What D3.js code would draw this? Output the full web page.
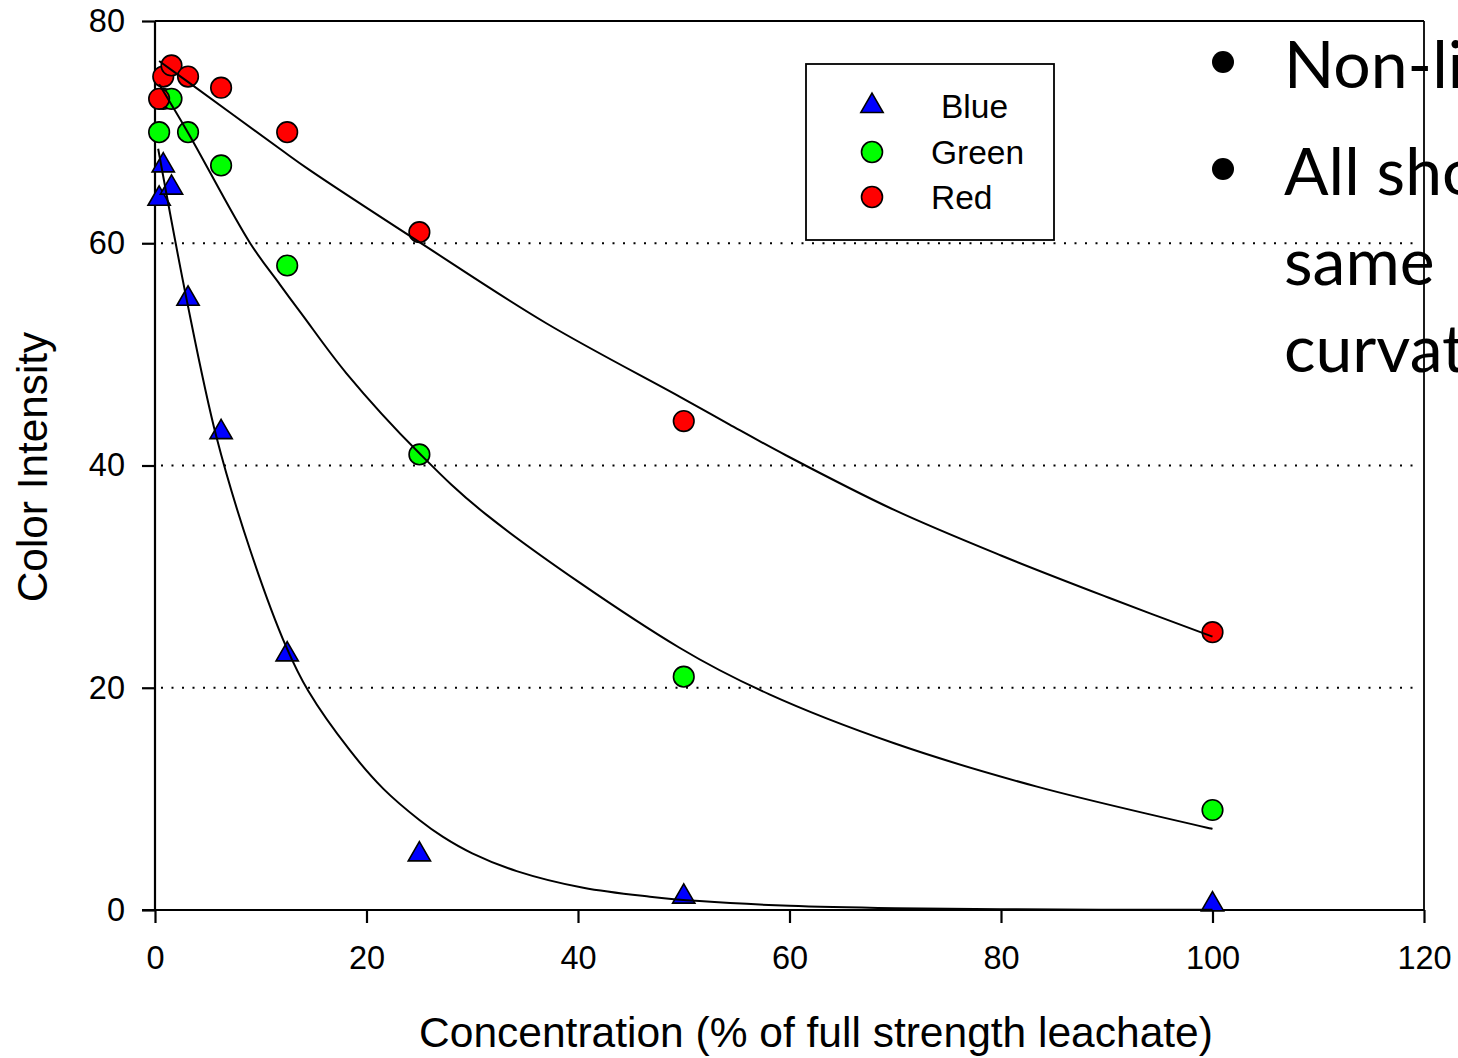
<!DOCTYPE html>
<html>
<head>
<meta charset="utf-8">
<script src="https://cdn.jsdelivr.net/npm/d3@7/dist/d3.min.js"></script>
<style>
  html, body { margin: 0; padding: 0; background: #fff; overflow: hidden; }
  svg { display: block; }
</style>
</head>
<body>
<script>
// ---- Data ----
const concentrations = [0.39, 0.78, 1.56, 3.125, 6.25, 12.5, 25, 50, 100];
const blueValues  = [64, 67, 65, 55, 43, 23, 5, 1.2, 0.5];
const greenValues = [70, 73, 73, 70, 67, 58, 41, 21, 9];
const redValues   = [73, 75, 76, 75, 74, 70, 61, 44, 25];

// fitted curves
const blueFitX  = [0.3, 3, 5.8, 9, 12.4, 14.5, 18.4, 21.6, 25, 27.2, 30, 34.2, 40.5, 46.8, 51.5, 60, 70, 80, 90, 100];
const blueFitY  = [68.5, 54.9, 42.6, 32.4, 23.7, 19.7, 14.4, 10.9, 8.1, 6.6, 5.1, 3.5, 2.0, 1.2, 0.8, 0.38, 0.16, 0.07, 0.03, 0.013];
const greenFitX = [0.39, 3.15, 9, 11.8, 13.9, 18.1, 25, 31.3, 49.6, 58.1, 69.9, 83.4, 100];
const greenFitY = [74.3, 69.9, 60, 56.3, 53.6, 48.3, 41.1, 35.6, 23.6, 19.4, 15, 11.1, 7.3];
const redFitX   = [0.39, 3.15, 11.8, 14.6, 25, 37, 49.6, 54.3, 59.7, 69.9, 80, 90.2, 100];
const redFitY   = [76.4, 74.5, 68.5, 66.6, 60.1, 52.8, 46.2, 43.7, 40.9, 36.0, 31.9, 28.1, 24.6];

const xTicks = [0, 20, 40, 60, 80, 100, 120];
const yTicks = [0, 20, 40, 60, 80];
const gridValues = [20, 40, 60];

const legendLabels = ["Blue", "Green", "Red"];
const xTitle = "Concentration (% of full strength leachate)";
const yTitle = "Color Intensity";
const slideLines = [
  {bullet: true,  text: "Non-linear"},
  {bullet: true,  text: "All show the"},
  {bullet: false, text: "same"},
  {bullet: false, text: "curvature"}
];

// ---- Layout ----
const W = 1458, H = 1058;
const pLeft = 155, pRight = 1424, pTop = 21, pBottom = 910;
const FONT = "'Liberation Sans', Arial, sans-serif";

const svg = d3.select("body").append("svg").attr("width", W).attr("height", H);

const x = d3.scaleLinear().domain([0, 120]).range([pLeft, pRight]);
const y = d3.scaleLinear().domain([0, 80]).range([pBottom, pTop]);

// Slide text (behind chart)
const slideY = [88, 195, 285, 372];
const slide = svg.append("g").attr("font-family", "Lato, 'Open Sans', sans-serif").attr("font-size", 66).attr("fill", "#000");
slideLines.forEach((d, i) => {
  if (d.bullet) slide.append("circle").attr("cx", 1223).attr("cy", slideY[i] - 26).attr("r", 11).attr("fill", "#000");
  slide.append("text").attr("x", 1284).attr("y", slideY[i]).text(d.text);
});

// gridlines
svg.append("g").selectAll("line").data(gridValues).join("line")
  .attr("x1", pLeft + 6).attr("x2", pRight - 6)
  .attr("y1", d => y(d)).attr("y2", d => y(d))
  .attr("stroke", "#000").attr("stroke-width", 2)
  .attr("stroke-dasharray", "2,8.5");

// frame top & right
svg.append("line").attr("x1", pLeft).attr("x2", pRight).attr("y1", pTop).attr("y2", pTop)
  .attr("stroke", "#000").attr("stroke-width", 1.8);
svg.append("line").attr("x1", pRight).attr("x2", pRight).attr("y1", pTop).attr("y2", pBottom)
  .attr("stroke", "#000").attr("stroke-width", 1.8);

// axes
const xAxis = svg.append("g").attr("transform", `translate(0,${pBottom})`)
  .call(d3.axisBottom(x).tickValues(xTicks).tickSize(13).tickSizeOuter(0).tickPadding(23).tickFormat(d3.format("d")));
const yAxis = svg.append("g").attr("transform", `translate(${pLeft},0)`)
  .call(d3.axisLeft(y).tickValues(yTicks).tickSize(13).tickSizeOuter(0).tickPadding(17).tickFormat(d3.format("d")));
[xAxis, yAxis].forEach(a => {
  a.select(".domain").attr("stroke-width", 2.2);
  a.selectAll(".tick line").attr("stroke-width", 2.2);
  a.selectAll(".tick text").attr("font-family", FONT).attr("font-size", 32.5).attr("fill", "#000");
});
xAxis.select(".domain").attr("d", `M${pLeft - 13},0H${pRight}`);
yAxis.select(".domain").attr("d", `M0,${pBottom}V${pTop}`);

// axis titles
svg.append("text").attr("x", 816).attr("y", 1047)
  .attr("text-anchor", "middle").attr("font-family", FONT).attr("font-size", 42.5).text(xTitle);
svg.append("text").attr("transform", `translate(47,467) rotate(-90)`)
  .attr("text-anchor", "middle").attr("font-family", FONT).attr("font-size", 42.3).text(yTitle);

// markers
const tri = d3.symbol().type(d3.symbolTriangle).size(215);
const series = [
  {name: "Blue",  vals: blueValues,  color: "#0000ff", shape: "tri"},
  {name: "Green", vals: greenValues, color: "#00ff00", shape: "circle"},
  {name: "Red",   vals: redValues,   color: "#ff0000", shape: "circle"}
];
series.forEach(s => {
  const pts = concentrations.map((c, i) => [c, s.vals[i]]);
  const g = svg.append("g");
  if (s.shape === "tri") {
    g.selectAll("path").data(pts).join("path")
      .attr("d", tri).attr("transform", d => `translate(${x(d[0])},${y(d[1])})`)
      .attr("fill", s.color).attr("stroke", "#000").attr("stroke-width", 1.6);
  } else {
    g.selectAll("circle").data(pts).join("circle")
      .attr("cx", d => x(d[0])).attr("cy", d => y(d[1])).attr("r", 10.3)
      .attr("fill", s.color).attr("stroke", "#000").attr("stroke-width", 1.6);
  }
});

// fitted curves
const line = d3.line().x(d => x(d[0])).y(d => y(d[1])).curve(d3.curveCatmullRom.alpha(0.5));
[[blueFitX, blueFitY], [greenFitX, greenFitY], [redFitX, redFitY]].forEach(([xs, ys]) => {
  svg.append("path").datum(xs.map((v, i) => [v, ys[i]]))
    .attr("d", line).attr("fill", "none").attr("stroke", "#000").attr("stroke-width", 2);
});

// legend
svg.append("rect").attr("x", 806).attr("y", 64).attr("width", 248).attr("height", 176)
  .attr("fill", "#fff").attr("stroke", "#000").attr("stroke-width", 1.8);
const legY = [106, 152, 197];
const legTextX = [941, 931, 931];
series.forEach((s, i) => {
  if (s.shape === "tri") {
    svg.append("path").attr("d", tri).attr("transform", `translate(872,${legY[i]})`)
      .attr("fill", s.color).attr("stroke", "#000").attr("stroke-width", 1.6);
  } else {
    svg.append("circle").attr("cx", 872).attr("cy", legY[i]).attr("r", 10.5)
      .attr("fill", s.color).attr("stroke", "#000").attr("stroke-width", 1.6);
  }
  svg.append("text").attr("x", legTextX[i]).attr("y", legY[i] + 12)
    .attr("font-family", FONT).attr("font-size", 33.5).text(legendLabels[i]);
});
</script>
</body>
</html>
